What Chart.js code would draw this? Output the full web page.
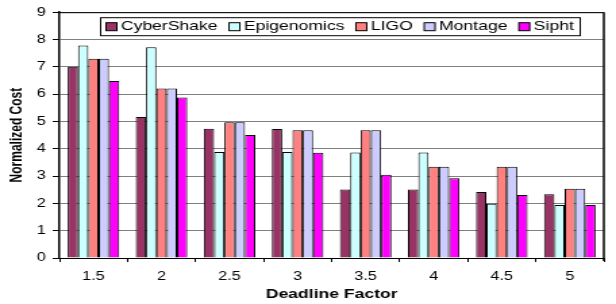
<!DOCTYPE html>
<html>
<head>
<meta charset="utf-8">
<script src="https://cdn.jsdelivr.net/npm/chart.js@4/dist/chart.umd.min.js"></script>
<style>
  html, body { margin: 0; padding: 0; background: #fff; }
</style>
</head>
<body>
<!-- the reference is stretched sideways, so draw narrow and stretch the canvas -->
<canvas id="chart" width="456" height="304" style="width:616px;height:304px"></canvas>
<script>
const deadlineFactors = ['1.5', '2', '2.5', '3', '3.5', '4', '4.5', '5'];

const cyberShake  = [7.00, 5.16, 4.73, 4.72, 2.51, 2.51, 2.42, 2.33];
const epigenomics = [7.78, 7.72, 3.88, 3.88, 3.86, 3.86, 1.99, 1.94];
const ligo        = [7.30, 6.21, 4.97, 4.68, 4.68, 3.34, 3.34, 2.54];
const montage     = [7.30, 6.21, 4.97, 4.68, 4.68, 3.34, 3.34, 2.54];
const sipht       = [6.48, 5.88, 4.50, 3.85, 3.05, 2.92, 2.31, 1.94];

const yTicks = [0, 1, 2, 3, 4, 5, 6, 7, 8, 9];

const FONT = 'Liberation Sans, Arial, sans-serif';

function bar(label, data, color) {
    return {
        label: label,
        data: data,
        backgroundColor: color,
        borderColor: '#000',
        borderWidth: 1,
        categoryPercentage: 0.757,
        barPercentage: 1.0
    };
}

// plot frame + boxed legend inside the plot (Excel style)
const framePlugin = {
    id: 'frames',
    afterDraw(chart) {
        const ctx = chart.ctx;
        const a = chart.chartArea;
        ctx.save();
        ctx.strokeStyle = '#000';
        ctx.lineWidth = 1;
        ctx.beginPath();
        ctx.moveTo(a.left, a.top + 0.5);
        ctx.lineTo(a.right, a.top + 0.5);
        ctx.stroke();
        ctx.lineWidth = 1.5;
        ctx.beginPath();
        ctx.moveTo(a.right, a.top);
        ctx.lineTo(a.right, a.bottom + 3);
        ctx.stroke();

        // legend
        ctx.font = '13px ' + FONT;
        ctx.textBaseline = 'middle';
        ctx.textAlign = 'left';
        const box = 8, gap = 3, itemGap = 8.5, pad = 4.5;
        const sets = chart.data.datasets;
        let total = 0;
        sets.forEach((ds, i) => {
            total += box + gap + ctx.measureText(ds.label).width + (i ? itemGap : 0);
        });
        const left = Math.round(a.left + 30);
        const top = a.top + 5;
        const h = 18;
        const cy = top + h / 2;
        ctx.fillStyle = '#fff';
        ctx.fillRect(left, top, total + 2 * pad, h);
        ctx.lineWidth = 1;
        ctx.strokeRect(left + 0.5, top + 0.5, Math.round(total + 2 * pad), h);
        let x = left + pad;
        sets.forEach(ds => {
            ctx.fillStyle = ds.backgroundColor;
            ctx.fillRect(x, cy - box / 2 + 0.5, box, box);
            ctx.strokeRect(x, cy - box / 2 + 0.5, box, box);
            x += box + gap;
            ctx.fillStyle = '#000';
            ctx.fillText(ds.label, x, cy + 0.5);
            x += ctx.measureText(ds.label).width + itemGap;
        });
        ctx.restore();
    }
};

new Chart(document.getElementById('chart'), {
    type: 'bar',
    data: {
        labels: deadlineFactors,
        datasets: [
            bar('CyberShake', cyberShake, '#993366'),
            bar('Epigenomics', epigenomics, '#CCFFFF'),
            bar('LIGO', ligo, '#FF8080'),
            bar('Montage', montage, '#CCCCFF'),
            bar('Sipht', sipht, '#FF00FF')
        ]
    },
    options: {
        responsive: false,
        devicePixelRatio: 1,
        animation: false,
        layout: { padding: { top: 8, right: 9, left: 0, bottom: 0 } },
        plugins: {
            legend: { display: false },
            tooltip: { enabled: false }
        },
        scales: {
            x: {
                afterFit(s) { s.height = 46; },
                grid: { drawOnChartArea: false, tickLength: 4, tickColor: '#000' },
                border: { color: '#000', width: 1 },
                ticks: { color: '#000', padding: 7, font: { family: FONT, size: 12 } },
                title: {
                    display: true,
                    text: 'Deadline Factor',
                    color: '#000',
                    font: { family: FONT, size: 13, weight: 'bold' },
                    padding: { top: 0, bottom: 2 }
                }
            },
            y: {
                min: 0,
                max: 9,
                afterFit(s) { s.width = 44; },
                afterBuildTicks(s) { s.ticks = yTicks.map(v => ({ value: v })); },
                grid: { color: '#808080', tickColor: '#000', tickLength: 5 },
                border: { color: '#000', width: 1.5 },
                ticks: { color: '#000', padding: 5, font: { family: FONT, size: 12 } },
                title: {
                    display: true,
                    text: 'Normalized Cost',
                    color: '#000',
                    font: { family: FONT, size: 12, weight: 'bold' },
                    padding: { top: 5, bottom: 0 }
                }
            }
        }
    },
    plugins: [framePlugin]
});
</script>
</body>
</html>
